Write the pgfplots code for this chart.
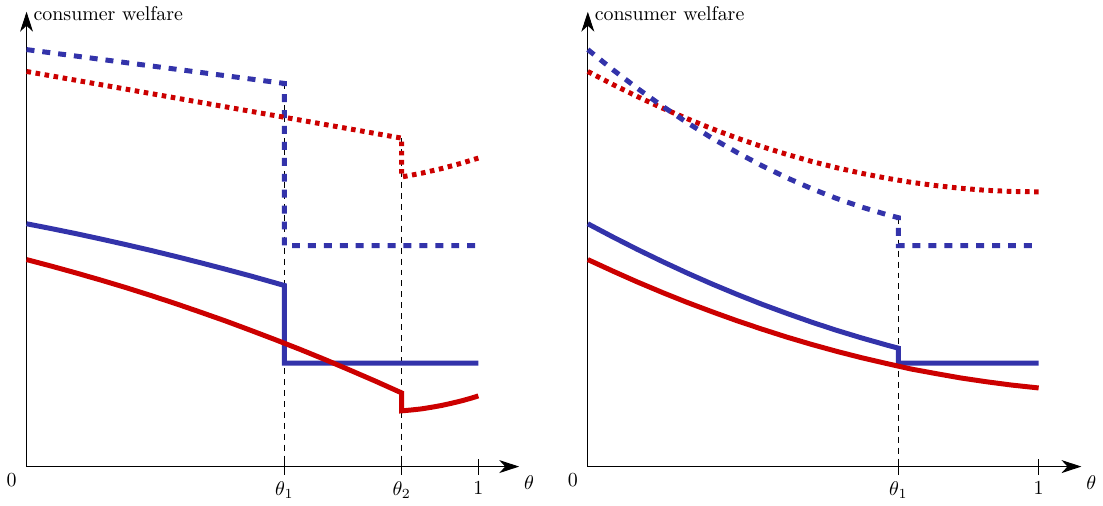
\documentclass[border=0pt]{standalone}
\usepackage{pgfplots}
\pgfplotsset{compat=1.18}
\usetikzlibrary{arrows.meta}
\definecolor{cblue}{RGB}{51,51,170}
\definecolor{cred}{RGB}{204,0,0}
\pgfplotsset{
  panel/.style={
    x=0.5pt, y=0.5pt, xmin=0, ymin=0, ymax=457,
    axis lines=left,
    axis line style={line width=0.5pt, -{Stealth[length=10pt,width=6.5pt,inset=3pt]}},
    ytick=\empty, tick align=center, major tick length=8pt,
    tick style={line width=0.5pt, black},
    clip=false,
    xlabel={$\theta$}, ylabel={consumer welfare},
    every axis x label/.style={at={(rel axis cs:1,0)}, anchor=north west, yshift=-1pt, xshift=-1pt},
    every axis y label/.style={at={(rel axis cs:0,1)}, anchor=west, yshift=-1pt},
    extra x ticks={0}, extra x tick labels={$0$},
    extra x tick style={major tick length=0pt, tick label style={xshift=-7.5pt}},
  },
  bsol/.style={cblue, line width=2.5pt},
  rsol/.style={cred, line width=2.5pt},
  bdash/.style={cblue, line width=2.5pt, dash pattern=on 4pt off 4pt},
  rdot/.style={cred, line width=2.5pt, dash pattern=on 2.3pt off 2.3pt},
  guide/.style={black, line width=0.5pt, dash pattern=on 3pt off 2.5pt},
}
\begin{document}
\begin{tikzpicture}
\begin{axis}[panel, xmax=495,
  xtick={259,377,454}, xticklabels={$\theta_1$,$\theta_2$,$1$}]
\addplot[guide] coordinates {(259,385) (259,0)};
\addplot[guide] coordinates {(377,330) (377,0)};
\addplot[bdash] coordinates {(0,419) (259,385) (259,222) (454,222)};
\addplot[rdot] coordinates {(0,397) (259,351) (377,330) (377,291) (397,294.8) (417,299.4) (437,304.8) (454,310)};
\addplot[bsol] coordinates {(0,244) (25,239.1) (50,234.0) (75,228.6) (100,223.0) (125,217.2) (150,211.1) (175,204.8) (200,198.3) (225,191.6) (259,182) (259,104) (454,104)};
\addplot[rsol] coordinates {(0,208) (25,201.4) (50,194.5) (75,187.3) (100,179.8) (125,171.9) (150,163.7) (175,155.1) (200,146.3) (225,137.0) (250,127.5) (275,117.7) (300,107.5) (325,96.9) (350,86.1) (377,74)
  (377,56) (387,56.9) (397,58.0) (407,59.6) (417,61.4) (427,63.6) (437,66.0) (447,68.8) (454,71)};
\end{axis}
\begin{axis}[panel, xmax=496, xshift=282pt,
  xtick={312,453}, xticklabels={$\theta_1$,$1$}]
\addplot[guide] coordinates {(312,250) (312,0)};
\addplot[rdot] coordinates {(0,397) (25,384.0) (50,371.7) (75,360.2) (100,349.5) (125,339.4) (150,330.1) (175,321.5) (200,313.7) (225,306.6) (250,300.3) (275,294.7) (300,289.8) (325,285.6) (350,282.3) (375,279.6) (400,277.6) (425,276.5) (453,276)};
\addplot[bdash] coordinates {(0,419) (25,398.9) (50,379.9) (75,362.1) (100,345.5) (125,329.9) (150,315.6) (175,302.3) (200,290.2) (225,279.2) (250,269.4) (275,260.8) (300,253.3) (312,250.1) (312,222) (453,222)};
\addplot[bsol] coordinates {(0,244) (25,230.8) (50,218.1) (75,206.0) (100,194.4) (125,183.4) (150,173) (175,163.1) (200,153.9) (225,145.1) (250,136.9) (275,129.3) (300,122.2) (312,119) (312,104) (453,104)};
\addplot[rsol] coordinates {(0,208) (25,196.5) (50,185.4) (75,174.9) (100,164.9) (125,155.5) (150,146.5) (175,138.1) (200,130.1) (225,122.7) (250,115.8) (275,109.4) (300,103.6) (325,98.0) (350,93.4) (375,89.0) (400,85.3) (425,82.0) (453,79)};
\end{axis}
\end{tikzpicture}
\end{document}
